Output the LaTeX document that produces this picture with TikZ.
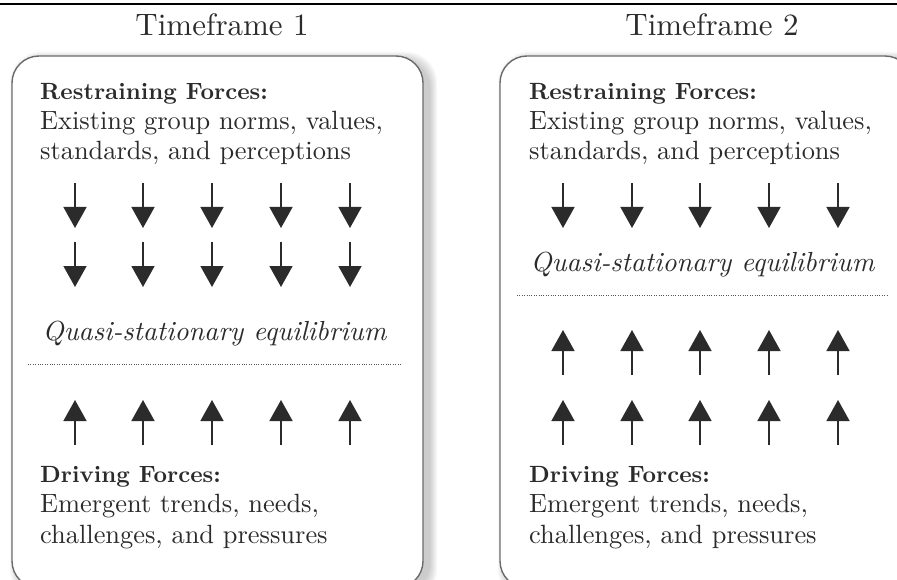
\documentclass[tikz,border=0pt]{standalone}
\usepackage{fontspec}
\setmainfont{lmroman10-regular.otf}[
  BoldFont=lmroman10-bold.otf,
  ItalicFont=lmroman10-italic.otf]
\usetikzlibrary{arrows.meta}
\definecolor{inkgray}{HTML}{2B2B2B}
\definecolor{framegray}{HTML}{6A6A6A}
\tikzset{
  force/.style={-{Triangle[width=23pt,length=21pt]}, line width=1.5pt, draw=inkgray},
  panel/.style={draw=framegray, line width=1.4pt, fill=white, rounded corners=27pt},
  halo/.style={fill=black, opacity=0.028, rounded corners=30pt},
  heading/.style={anchor=base, inner sep=0pt, text=inkgray, font=\fontsize{31}{36}\selectfont},
  forcename/.style={anchor=base west, inner sep=0pt, text=inkgray, font=\fontsize{23.5}{30}\selectfont\bfseries},
  forcetext/.style={anchor=base west, inner sep=0pt, text=inkgray, font=\fontsize{26.4}{30}\selectfont},
  balance/.style={anchor=base, inner sep=0pt, text=inkgray, font=\fontsize{27.6}{30}\selectfont\itshape},
  divider/.style={draw=inkgray!80, line width=1pt, dash pattern=on 1pt off 1.4pt}
}
\begin{document}
\begin{tikzpicture}[x=1pt, y=-1pt]
\useasboundingbox (0,0) rectangle (897,580);
\draw[line width=2pt] (0,4.5) -- (897,4.5);

% soft shadows behind the two panels
\foreach \s in {1,...,8} {
  \fill[halo] (18-\s,60-\s) rectangle (429+\s,592+\s);
  \fill[halo] (506-\s,60-\s) rectangle (918+\s,592+\s);
}
\draw[panel] (12,56) rectangle (423,588);
\draw[panel] (500,56) rectangle (912,588);

\node[heading] (tf1) at (222,36) {Timeframe 1};
\node[heading] (tf2) at (712,36) {Timeframe 2};

% Timeframe 1
\node[forcename] (lrest) at (40,100) {Restraining Forces:};
\node[forcetext] (lrest1) at (40,130) {Existing group norms, values,};
\node[forcetext] (lrest2) at (40,160) {standards, and perceptions};

\draw[force] (75,183) -- (75,228);
\draw[force] (143,183) -- (143,228);
\draw[force] (212,183) -- (212,228);
\draw[force] (281,183) -- (281,228);
\draw[force] (350,183) -- (350,228);

\draw[force] (75,242) -- (75,287);
\draw[force] (143,242) -- (143,287);
\draw[force] (212,242) -- (212,287);
\draw[force] (281,242) -- (281,287);
\draw[force] (350,242) -- (350,287);

\node[balance] (lqse) at (214.5,340) {Quasi-stationary equilibrium};
\draw[divider] (28,364) -- (402,364);

\draw[force] (75,445) -- (75,400);
\draw[force] (143,445) -- (143,400);
\draw[force] (212,445) -- (212,400);
\draw[force] (281,445) -- (281,400);
\draw[force] (350,445) -- (350,400);

\node[forcename] (ldrive) at (40,482) {Driving Forces:};
\node[forcetext] (ldrive1) at (40,512) {Emergent trends, needs,};
\node[forcetext] (ldrive2) at (40,543) {challenges, and pressures};

% Timeframe 2
\node[forcename] (rrest) at (529,100) {Restraining Forces:};
\node[forcetext] (rrest1) at (529,130) {Existing group norms, values,};
\node[forcetext] (rrest2) at (529,160) {standards, and perceptions};

\draw[force] (563,183) -- (563,228);
\draw[force] (632,183) -- (632,228);
\draw[force] (700,183) -- (700,228);
\draw[force] (769,183) -- (769,228);
\draw[force] (838,183) -- (838,228);

\node[balance] (rqse) at (702.5,272) {Quasi-stationary equilibrium};
\draw[divider] (517,295) -- (888,295);

\draw[force] (563,375) -- (563,330);
\draw[force] (632,375) -- (632,330);
\draw[force] (700,375) -- (700,330);
\draw[force] (769,375) -- (769,330);
\draw[force] (838,375) -- (838,330);

\draw[force] (563,445) -- (563,400);
\draw[force] (632,445) -- (632,400);
\draw[force] (700,445) -- (700,400);
\draw[force] (769,445) -- (769,400);
\draw[force] (838,445) -- (838,400);

\node[forcename] (rdrive) at (529,482) {Driving Forces:};
\node[forcetext] (rdrive1) at (529,512) {Emergent trends, needs,};
\node[forcetext] (rdrive2) at (529,543) {challenges, and pressures};
\end{tikzpicture}
\end{document}
